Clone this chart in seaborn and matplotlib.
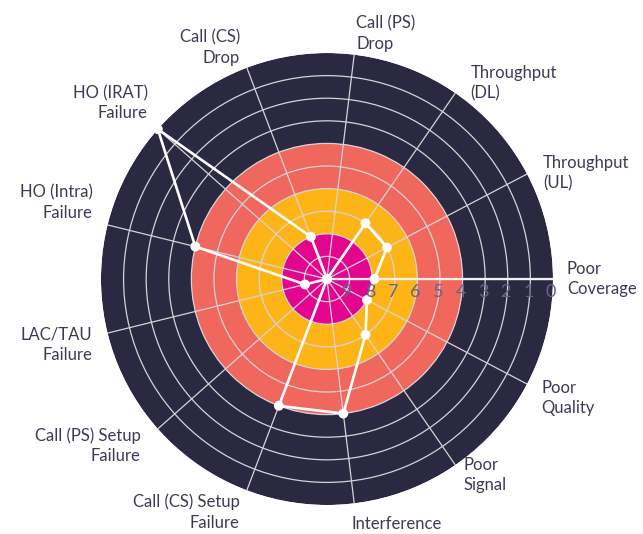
import numpy as np
import pandas as pd
import matplotlib
matplotlib.use("Agg")
import matplotlib.pyplot as plt
import seaborn as sns

# KPI categories, counter-clockwise from the right-hand axis
categories = [
    "Poor\nCoverage", "Throughput\n(UL)", "Throughput\n(DL)", "Call (PS)\nDrop",
    "Call (CS)\nDrop", "HO (IRAT)\nFailure", "HO (Intra)\nFailure", "LAC/TAU\nFailure",
    "Call (PS) Setup\nFailure", "Call (CS) Setup\nFailure", "Interference",
    "Poor\nSignal", "Poor\nQuality",
]
# Score per category (10 = centre, 0 = outer rim)
scores = [7.9, 7, 7, 10, 8, 0, 4, 9, 10, 4, 4, 7, 8]

# Radial scale labels shown along the right-hand axis
scale_ticks = [9, 8, 7, 6, 5, 4, 3, 2, 1, 0]

# Coloured score bands (lower, upper)
band_lower = [0, 4, 6, 8]
band_upper = [4, 6, 8, 10]
band_colors = ["#2b2942", "#f0675d", "#fdb417", "#e4058e"]

# Label nudges in pixels (dx, dy) from each spoke's outer end
label_nudges = [
    (14, 0), (16, 1), (15, 10), (2, 21), (-7, 20), (-10, 26), (-15, 22),
    (-15, -12), (-17, -17), (-7, -22), (-3, -21), (8, -10), (14, -14),
]

sns.set_theme(style="white")
plt.rcParams["font.family"] = ["Lato", "DejaVu Sans"]

n = len(categories)
angles = np.arange(n) * 2 * np.pi / n

fig = plt.figure(figsize=(6.43, 5.34), dpi=100)
ax = fig.add_axes([0.157, 0.0543, 0.703, 0.8464], projection="polar")
ax.set_facecolor("white")

# Concentric coloured bands
for lo, hi, col in zip(band_lower, band_upper, band_colors):
    ax.bar(np.pi, hi - lo, width=2 * np.pi, bottom=lo, color=col,
           edgecolor="none", linewidth=0, zorder=1)

ax.set_ylim(10, 0)
ax.set_xticks(angles)
ax.set_xticklabels([])
ax.set_yticks([t for t in scale_ticks if t != 0])
ax.set_yticklabels([])
ax.set_axisbelow(False)
ax.grid(True, color="#d4d4d8", linewidth=0.9)
ax.spines["polar"].set_visible(False)

# Highlighted right-hand axis
ax.axvline(0, color="#f2f2f2", linewidth=1.6, zorder=3)

# Score polygon
df = pd.DataFrame({
    "angle": np.append(angles, 2 * np.pi),
    "score": scores + scores[:1],
})
sns.lineplot(data=df, x="angle", y="score", sort=False, estimator=None,
             ax=ax, color="white", linewidth=1.9, zorder=5, clip_on=False)
ax.scatter(angles, scores, s=50, color="white", edgecolor="none",
           zorder=6, clip_on=False)
ax.set_xlabel("")
ax.set_ylabel("")

# Scale numbers along the right-hand axis
for t in scale_ticks:
    ax.annotate(str(t), xy=(0, t), xytext=(-2, -13), textcoords="offset pixels",
                ha="center", va="center", fontsize=13, color="#65648a",
                zorder=7, annotation_clip=False)

# Category labels outside the rim
for ang, lab, (dx, dy) in zip(angles, categories, label_nudges):
    c = np.cos(ang)
    ha = "left" if (abs(c) < 1e-6 or c > 0) else "right"
    ax.annotate(lab, xy=(ang, 0), xytext=(dx, dy), textcoords="offset pixels",
                ha=ha, va="center", multialignment=ha, fontsize=12,
                color="#3b3b58", linespacing=1.35, annotation_clip=False)

fig.savefig("out.png", dpi=100, facecolor="white")
